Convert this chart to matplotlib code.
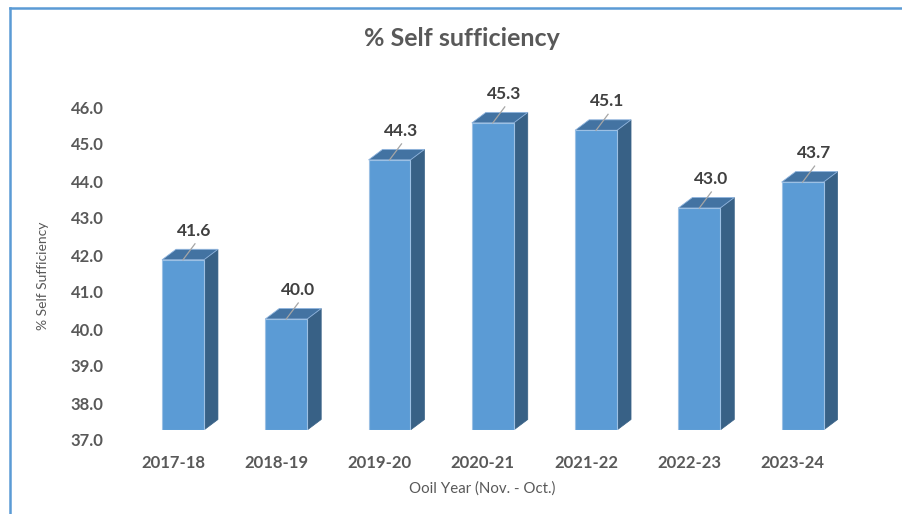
import matplotlib.pyplot as plt
import matplotlib.transforms as mtransforms
from matplotlib.patches import Polygon
from matplotlib.lines import Line2D

plt.rcParams['font.family'] = ['Lato', 'DejaVu Sans']

years = ['2017-18', '2018-19', '2019-20', '2020-21', '2021-22', '2022-23', '2023-24']
self_suff = [41.6, 40.0, 44.3, 45.3, 45.1, 43.0, 43.7]
y_ticks = [37, 38, 39, 40, 41, 42, 43, 44, 45, 46]

front_c = '#5B9BD5'
side_c = '#386186'
top_c = '#4373A2'
txt_c = '#595959'

fig = plt.figure(figsize=(9.02, 5.14), dpi=100)
W, H = 902, 514
ax = fig.add_axes([131.35 / W, 84 / H, 722.9 / W, 370 / H])
ax.set_xlim(-0.5, 6.5)
ax.set_ylim(37, 47)

bw = 0.406
dx = 14 / 103.3
dy = 10.5 / 37
base = 37
for i, v in enumerate(self_suff):
    x0, x1 = i - bw / 2, i + bw / 2
    side = Polygon([(x1, base), (x1 + dx, base + dy), (x1 + dx, v + dy), (x1, v)],
                   closed=True, facecolor=side_c, edgecolor=side_c, lw=0.5, zorder=2)
    top = Polygon([(x0, v), (x0 + dx, v + dy), (x1 + dx, v + dy), (x1, v)],
                  closed=True, facecolor=top_c, edgecolor='#8FB4DE', lw=0.6, zorder=3)
    front = Polygon([(x0, base), (x0, v), (x1, v), (x1, base)],
                    closed=True, facecolor=front_c, edgecolor='#9CC0E4', lw=0.8, zorder=4)
    ax.add_patch(side)
    ax.add_patch(top)
    ax.add_patch(front)
    # leader line and data label
    ax.plot([i, i + 0.116], [v, v + 16 / 37], color='#A6A6A6', lw=0.9, zorder=5)
    ax.text(i + 0.11, v + 29 / 37, f'{v:.1f}', ha='center', va='center',
            fontsize=12.5, fontweight='bold', color='#404040', zorder=6)

for s in ax.spines.values():
    s.set_visible(False)
ax.set_yticks(y_ticks)
ax.set_yticklabels([f'{t:.1f}' for t in y_ticks])
ax.set_xticks(range(len(years)))
ax.set_xticklabels(years)
ax.tick_params(length=0, labelsize=12, labelcolor=txt_c)
ax.tick_params(axis='y', pad=20)
ax.tick_params(axis='x', pad=18)
for lab in ax.get_yticklabels():
    lab.set_fontweight('bold')
    lab.set_transform(lab.get_transform() + mtransforms.ScaledTranslation(0, -0.1, fig.dpi_scale_trans))
for lab in ax.get_xticklabels():
    lab.set_fontweight('bold')
    lab.set_transform(lab.get_transform() + mtransforms.ScaledTranslation(-0.1, 0, fig.dpi_scale_trans))

fig.text(462 / W, 1 - 38 / H, '% Self sufficiency', ha='center', va='center',
         fontsize=18, fontweight='bold', color=txt_c)
fig.text(482 / W, 1 - 489 / H, 'Ooil Year (Nov. - Oct.)', ha='center', va='center',
         fontsize=10.8, color=txt_c)
fig.text(43 / W, 1 - 276 / H, '% Self Sufficiency', ha='center', va='center',
         rotation=90, fontsize=10, color=txt_c)

# chart border (cropped on the right and bottom)
fig.add_artist(Line2D([10 / W, 10 / W], [0, 1 - 8 / H], color='#5B9BD5', lw=1.8))
fig.add_artist(Line2D([10 / W, 1], [1 - 8 / H, 1 - 8 / H], color='#5B9BD5', lw=1.8))

fig.savefig('out.png', dpi=100)
